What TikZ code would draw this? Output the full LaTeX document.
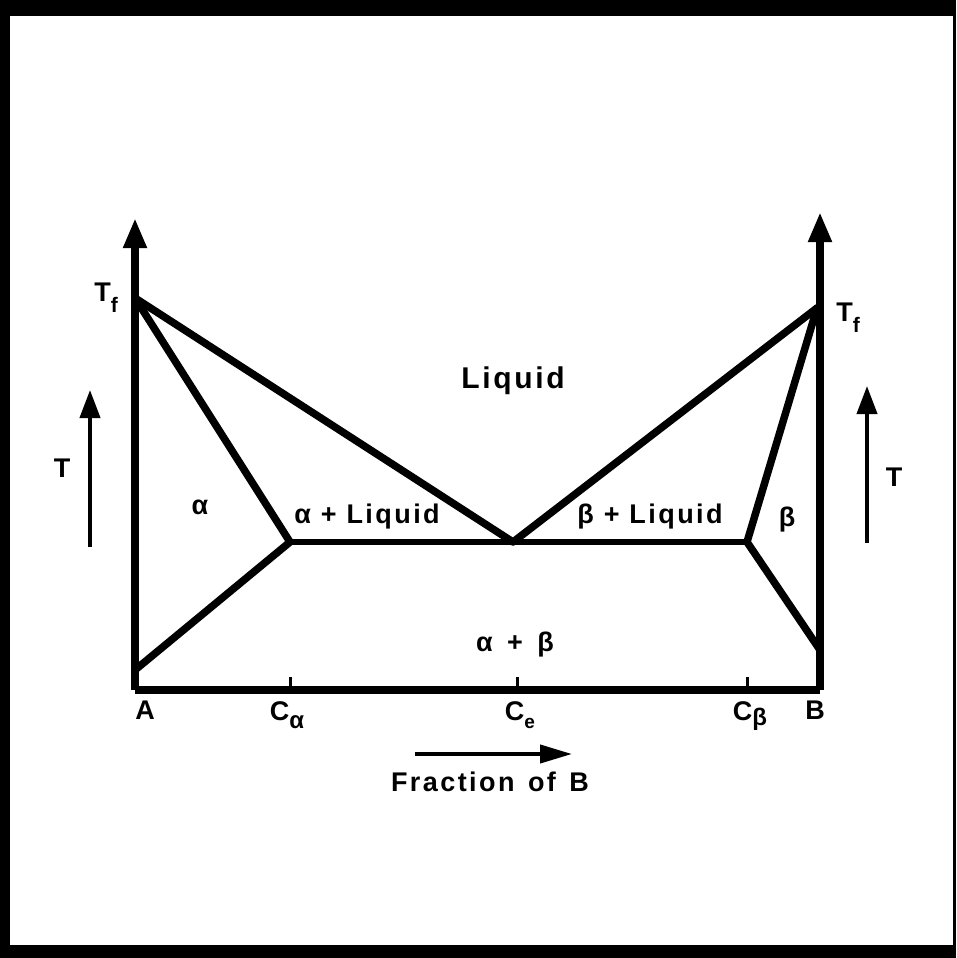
\documentclass[tikz,border=0pt]{standalone}
\usepackage{fontspec}
\setmainfont{Liberation Sans}[LetterSpace=9]
\usetikzlibrary{arrows.meta}
\begin{document}
\begin{tikzpicture}[x=1pt,y=-1pt,
  phase/.style={line width=7.5pt,line cap=round,line join=round},
  axis/.style={line width=8pt},
  tick/.style={line width=3pt},
  lab/.style={font=\bfseries\fontsize{27}{29}\selectfont,inner sep=0pt},
  big/.style={font=\bfseries\fontsize{30}{32}\selectfont,inner sep=0pt},
  uparrow/.style={line width=4pt,-{Triangle[length=28pt,width=20pt]}}]
\useasboundingbox (0,0) rectangle (956,958);
\fill[black] (0,0) rectangle (956,958);
\fill[white] (10,16) rectangle (953,945);
% key points
\coordinate (A) at (135,690);
\coordinate (B) at (820,690);
\coordinate (TfL) at (135,298);
\coordinate (TfR) at (817,308);
\coordinate (E) at (513,542);
\coordinate (Ca) at (290,542);
\coordinate (Cb) at (747,542);
\coordinate (SA) at (135,670);
\coordinate (SB) at (820,650);
\coordinate (topL) at (135,218);
\coordinate (topR) at (820,212);
% axes
\draw[axis,-{Triangle[length=30pt,width=22pt]}] (A) -- (topL);
\draw[axis,-{Triangle[length=30pt,width=22pt]}] (B) -- (topR);
\draw[axis,line join=miter] (A) -- (B);
% phase lines
\draw[phase] (TfL) -- (E) -- (TfR);
\draw[phase] (TfL) -- (Ca) -- (SA);
\draw[phase] (TfR) -- (Cb) -- (SB);
\draw[line width=5.5pt] (Ca) -- (Cb);
% ticks
\draw[tick] (290,677) -- (290,690);
\draw[tick] (517,677) -- (517,690);
\draw[tick] (747,677) -- (747,690);
% T arrows
\coordinate (tl0) at (90,547); \coordinate (tl1) at (90,390);
\coordinate (tr0) at (867,543); \coordinate (tr1) at (867,386);
\draw[uparrow] (tl0) -- (tl1);
\draw[uparrow] (tr0) -- (tr1);
\node[lab] (tL) at (62,468) {T};
\node[lab] (tR) at (894,477) {T};
% Tf labels
\node[lab] (TfLl) at (106,298) {T\raisebox{-0.4em}{\fontsize{21}{21}\selectfont f}};
\node[lab] (TfRl) at (848,318) {T\raisebox{-0.4em}{\fontsize{21}{21}\selectfont f}};
% region labels
\node[big] (liq) at (513,381) {Liquid};
\node[lab] (al) at (200,507) {α};
\node[lab] (alq) at (367,517) {α + Liquid};
\node[lab] (blq) at (650,517) {β + Liquid};
\node[lab] (be) at (787,520) {β};
\node[lab] (ab) at (515,645) {α \,+\, β};
% axis labels
\node[lab,anchor=north] (lA) at (145,701) {A};
\node[lab,anchor=north] (lCa) at (287,701) {C\raisebox{-0.3em}{\fontsize{24}{24}\selectfont α}};
\node[lab,anchor=north] (lCe) at (520,701) {C\raisebox{-0.3em}{\fontsize{19}{19}\selectfont e}};
\node[lab,anchor=north] (lCb) at (750,701) {C\raisebox{-0.2em}{\fontsize{24}{24}\selectfont β}};
\node[lab,anchor=north] (lB) at (815,701) {B};
% fraction arrow
\coordinate (f0) at (415,754); \coordinate (f1) at (572,754);
\draw[line width=4pt,-{Triangle[length=32pt,width=18pt]}] (f0) -- (f1);
\node[lab] (frac) at (490,782) {Fraction\hspace{0.5em}of\hspace{0.5em}B};
\end{tikzpicture}
\end{document}
